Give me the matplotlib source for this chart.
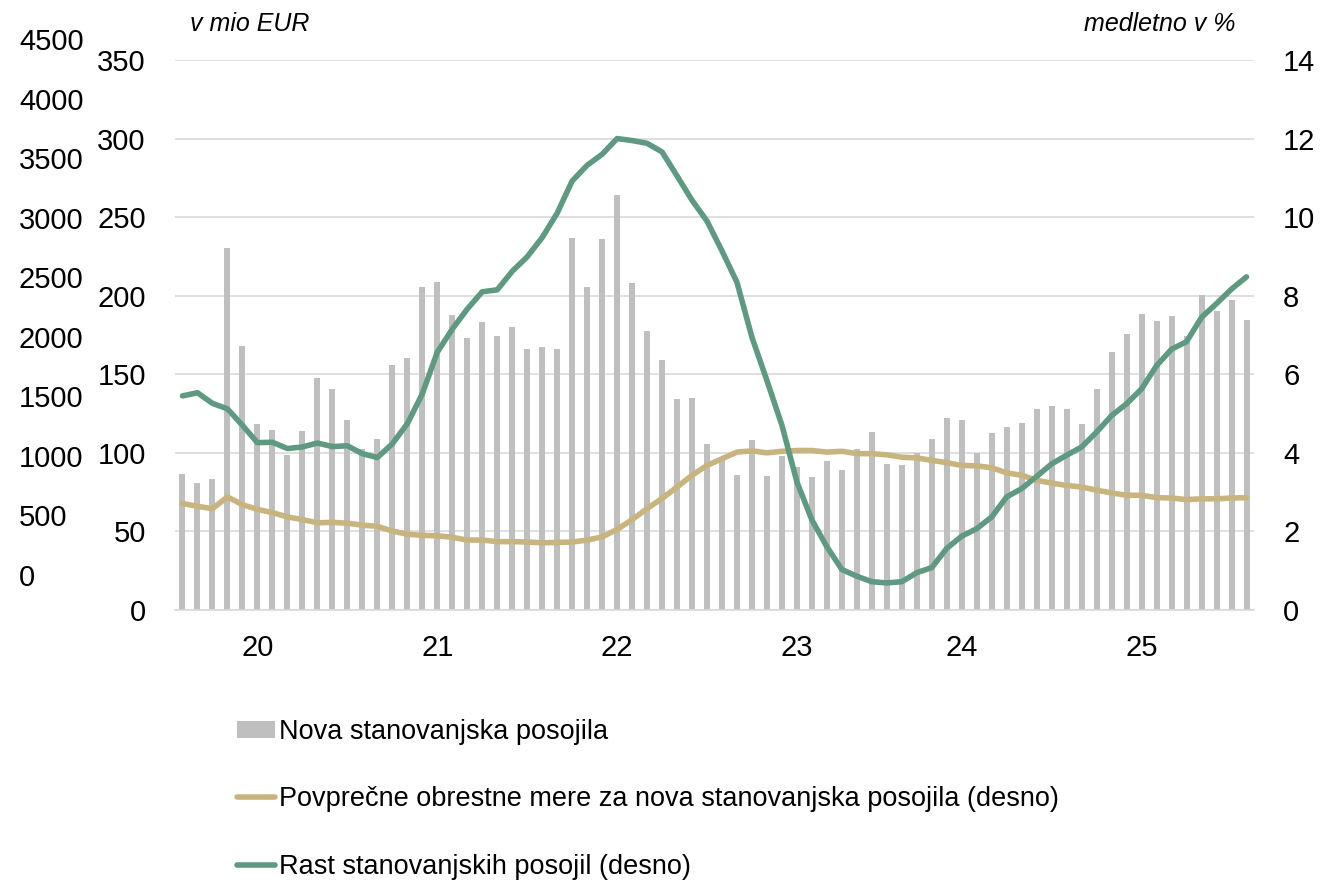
#!/usr/bin/env python3
"""Nova stanovanjska posojila, obrestne mere in rast posojil"""
import numpy as np
import matplotlib
matplotlib.use('Agg')
import matplotlib.pyplot as plt
from matplotlib.patches import Patch
from matplotlib.lines import Line2D

plt.rcParams['font.family'] = ['Liberation Sans Narrow', 'Liberation Sans', 'DejaVu Sans']

# mesečni podatki, avg 2019 - jul 2025
nova_posojila = [
    86.5, 80.8, 83.4, 230.2, 168.2, 118.5, 114.3, 98.8, 114.1, 147.9, 140.9, 120.6,
    102.2, 109.0, 156.0, 160.4, 205.5, 208.6, 187.9, 173.3, 183.0, 174.4, 180.3, 166.1,
    167.6, 165.9, 236.6, 205.5, 235.9, 263.9, 208.2, 177.3, 159.3, 134.2, 134.6, 105.4,
    95.2, 85.7, 107.9, 85.1, 98.2, 90.8, 84.4, 94.6, 89.3, 102.6, 113.4, 93.1,
    92.3, 99.9, 108.6, 121.9, 120.6, 100.1, 112.6, 116.4, 118.9, 127.8, 129.5, 127.8,
    118.3, 140.7, 164.0, 175.6, 188.3, 184.1, 187.3, 174.6, 200.6, 190.0, 197.2, 184.7,
]
obrestne_mere = [
    2.71, 2.64, 2.58, 2.88, 2.68, 2.56, 2.48, 2.37, 2.30, 2.22, 2.23, 2.21,
    2.16, 2.13, 2.01, 1.93, 1.90, 1.89, 1.85, 1.78, 1.78, 1.74, 1.74, 1.73,
    1.71, 1.72, 1.73, 1.78, 1.86, 2.05, 2.30, 2.58, 2.84, 3.13, 3.43, 3.68,
    3.85, 4.02, 4.05, 4.00, 4.04, 4.06, 4.06, 4.02, 4.04, 3.98, 3.98, 3.95,
    3.89, 3.87, 3.81, 3.75, 3.68, 3.67, 3.62, 3.49, 3.43, 3.30, 3.23, 3.17,
    3.13, 3.05, 2.98, 2.92, 2.92, 2.86, 2.85, 2.81, 2.83, 2.83, 2.85, 2.86,
]
rast_posojil = [
    5.45, 5.53, 5.26, 5.12, 4.70, 4.26, 4.27, 4.11, 4.15, 4.25, 4.16, 4.18,
    3.98, 3.88, 4.23, 4.74, 5.50, 6.56, 7.15, 7.66, 8.10, 8.15, 8.62, 8.99,
    9.48, 10.10, 10.92, 11.32, 11.60, 12.00, 11.95, 11.88, 11.66, 11.05, 10.43, 9.90,
    9.14, 8.34, 6.94, 5.84, 4.70, 3.26, 2.29, 1.61, 1.03, 0.86, 0.72, 0.69,
    0.72, 0.95, 1.08, 1.57, 1.88, 2.07, 2.37, 2.88, 3.09, 3.40, 3.72, 3.94,
    4.15, 4.53, 4.95, 5.25, 5.63, 6.22, 6.64, 6.83, 7.45, 7.80, 8.17, 8.48,
]
leto_pozicije = [5, 17, 29, 41, 52, 64]
leto_oznake = ['20', '21', '22', '23', '24', '25']
levo_oznake = [0, 50, 100, 150, 200, 250, 300, 350]
desno_oznake = [0, 2, 4, 6, 8, 10, 12, 14]
staro_oznake = [0, 500, 1000, 1500, 2000, 2500, 3000, 3500, 4000, 4500]

W, H = 1332, 880
SIVA = '#BFBFBF'
ZLATA = '#C8B47E'
ZELENA = '#5F9982'
MREZA = '#D9D9D9'
LW = 4.0

fig = plt.figure(figsize=(W / 100, H / 100), dpi=100)
ax = fig.add_axes([175 / W, 1 - 610 / H, (1254 - 175) / W, 550 / H])

x = np.arange(len(nova_posojila))
ax.bar(x, nova_posojila, width=0.4, color=SIVA, zorder=2)
ax.set_xlim(-0.5, len(x) - 0.5)
ax.set_ylim(0, 350)
ax.set_yticks(levo_oznake)
ax.grid(axis='y', color=MREZA, linewidth=1.2, zorder=0)
ax.set_axisbelow(True)
for s in ['top', 'left', 'right']:
    ax.spines[s].set_visible(False)
ax.spines['bottom'].set_color(MREZA)
ax.spines['bottom'].set_linewidth(1.2)
ax.set_xticks(leto_pozicije)
ax.set_xticklabels(leto_oznake)
ax.tick_params(axis='y', length=0, pad=21, labelsize=21)
ax.tick_params(axis='x', length=0, pad=17, labelsize=21)

# desna os za obe črti
ax2 = ax.twinx()
ax2.plot(x, obrestne_mere, color=ZLATA, linewidth=LW, solid_capstyle='round')
ax2.plot(x, rast_posojil, color=ZELENA, linewidth=LW, solid_capstyle='round')
ax2.set_ylim(0, 14)
ax2.set_yticks(desno_oznake)
for s in ax2.spines.values():
    s.set_visible(False)
ax2.tick_params(axis='y', length=0, pad=21, labelsize=21)
for lab in ax2.get_yticklabels():
    lab.set_ha('left')

# ostanek stare osi na skrajni levi
ax0 = fig.add_axes([19 / W, 1 - 575 / H, 1 / W, (575 - 39) / H])
ax0.set_ylim(0, 4500)
ax0.set_yticks(staro_oznake)
ax0.set_xticks([])
ax0.patch.set_visible(False)
for s in ax0.spines.values():
    s.set_visible(False)
ax0.tick_params(axis='y', length=0, pad=0, labelsize=21)
for lab in ax0.get_yticklabels():
    lab.set_ha('left')

fig.text(190 / W, 1 - 24 / H, 'v mio EUR', fontsize=18, style='italic',
         ha='left', va='center')
fig.text(1235 / W, 1 - 24 / H, 'medletno v %', fontsize=18, style='italic',
         ha='right', va='center')

handles = [
    Patch(facecolor=SIVA, edgecolor='none'),
    Line2D([], [], color=ZLATA, linewidth=LW, solid_capstyle='round'),
    Line2D([], [], color=ZELENA, linewidth=LW, solid_capstyle='round'),
]
labels = [
    'Nova stanovanjska posojila',
    'Povprečne obrestne mere za nova stanovanjska posojila (desno)',
    'Rast stanovanjskih posojil (desno)',
]
fig.legend(handles, labels, loc='upper left', bbox_to_anchor=(237 / W, 1 - 719 / H),
           frameon=False, fontsize=19.5, handlelength=1.4, handleheight=0.6,
           handletextpad=0.15, labelspacing=1.53, borderpad=0, borderaxespad=0)

fig.savefig('out.png', dpi=100)
